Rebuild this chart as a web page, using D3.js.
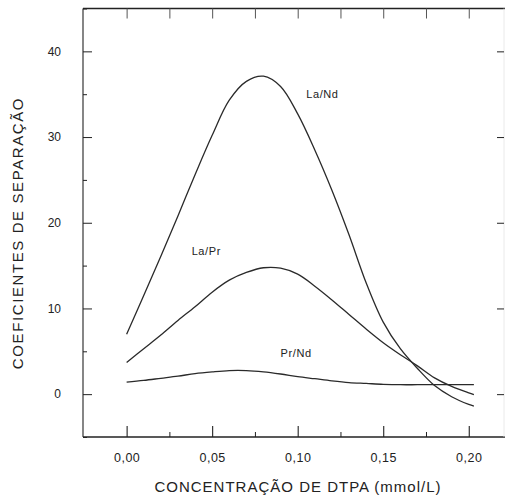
<!DOCTYPE html>
<html><head><meta charset="utf-8">
<script src="https://cdn.jsdelivr.net/npm/d3@7"></script>
<style>body{margin:0;background:#fff}svg{display:block}text{font-family:"Liberation Sans",Arial,sans-serif;fill:#222}</style>
</head><body><svg id="c" width="505" height="498"></svg>
<script>
const conc = [0,0.01,0.02,0.03,0.04,0.05,0.06,0.07,0.08,0.09,0.10,0.11,0.12,0.13,0.14,0.15,0.16,0.17,0.18,0.19,0.20,0.203];
const laNd = [7.0,11.5,16.1,20.8,25.6,30.2,34.3,36.5,37.1,35.9,32.7,28.5,23.8,18.6,13.0,8.4,5.3,3.0,1.0,-0.3,-1.2,-1.4];
const laPr = [3.7,5.3,6.9,8.6,10.2,11.9,13.3,14.2,14.75,14.7,14.0,12.6,11.0,9.3,7.6,6.0,4.6,3.3,1.9,0.9,0.15,-0.05];
const prNd = [1.4,1.6,1.85,2.1,2.4,2.6,2.75,2.75,2.6,2.35,2.05,1.8,1.55,1.35,1.25,1.15,1.1,1.1,1.1,1.1,1.1,1.1];
const seriesNames = ["La/Nd","La/Pr","Pr/Nd"];
const labelPos = [[0.105,34.5],[0.038,16.2],[0.090,4.3]];
const xTicks = [0,0.05,0.10,0.15,0.20];
const xMinor = [0.025,0.075,0.125,0.175];
const yTicks = [0,10,20,30,40];
const yMinor = [-5,5,15,25,35,45];
const xTitle = "CONCENTRAÇÃO DE DTPA (mmol/L)";
const yTitle = "COEFICIENTES DE SEPARAÇÃO";

const svg = d3.select("#c");
const L=83, R=504, T=8.5, B=437;
const x = d3.scaleLinear().domain([-0.0255,0.2206]).range([L,R]);
const y = d3.scaleLinear().domain([-5,45]).range([B,T]);
const fmt = d => d.toFixed(2).replace(".",",");
const ink="#222";

// frame
svg.append("line").attr("x1",L).attr("x2",L).attr("y1",T).attr("y2",B).attr("stroke",ink).attr("stroke-width",1.1);
svg.append("line").attr("x1",L).attr("x2",R+1).attr("y1",T).attr("y2",T).attr("stroke",ink).attr("stroke-width",1.3);
svg.append("line").attr("x1",L).attr("x2",R+1).attr("y1",B).attr("y2",B).attr("stroke",ink).attr("stroke-width",1.3);
svg.append("line").attr("x1",R).attr("x2",R).attr("y1",T).attr("y2",B).attr("stroke","#e4e4e4").attr("stroke-width",0.8);

// bottom axis (ticks inward)
const gb = svg.append("g").attr("transform",`translate(0,${B})`)
  .call(d3.axisBottom(x).tickValues(xTicks).tickSizeInner(-11).tickSizeOuter(0).tickPadding(16).tickFormat(fmt));
gb.select(".domain").remove();
gb.selectAll("line").attr("stroke",ink).attr("stroke-width",1.1);
gb.selectAll("text").attr("font-size",12.5).attr("letter-spacing",0.5).attr("fill",ink);
const gbm = svg.append("g").attr("transform",`translate(0,${B})`)
  .call(d3.axisBottom(x).tickValues(xMinor).tickSizeInner(-5).tickSizeOuter(0).tickFormat(""));
gbm.select(".domain").remove(); gbm.selectAll("line").attr("stroke",ink);

// top axis
const gt = svg.append("g").attr("transform",`translate(0,${T})`)
  .call(d3.axisTop(x).tickValues(xTicks.concat(xMinor)).tickSizeInner(-10).tickSizeOuter(0).tickFormat(""));
gt.select(".domain").remove(); gt.selectAll("line").attr("stroke","#555");

// left axis
const gl = svg.append("g").attr("transform",`translate(${L},0)`)
  .call(d3.axisLeft(y).tickValues(yTicks).tickSizeInner(-9).tickSizeOuter(0).tickPadding(22).tickFormat(d3.format("d")));
gl.select(".domain").remove();
gl.selectAll("line").attr("stroke",ink);
gl.selectAll("text").attr("font-size",12).attr("fill",ink);
const glm = svg.append("g").attr("transform",`translate(${L},0)`)
  .call(d3.axisLeft(y).tickValues(yMinor).tickSizeInner(-4).tickSizeOuter(0).tickFormat(""));
glm.select(".domain").remove(); glm.selectAll("line").attr("stroke",ink);

// right axis
const gr = svg.append("g").attr("transform",`translate(${R},0)`)
  .call(d3.axisRight(y).tickValues(yTicks).tickSizeInner(-7).tickSizeOuter(0).tickFormat(""));
gr.select(".domain").remove(); gr.selectAll("line").attr("stroke",ink);

// curves
const line = d3.line().x((d,i)=>x(conc[i])).y(d=>y(d)).curve(d3.curveCatmullRom.alpha(0.5));
[laNd,laPr,prNd].forEach(s=>{
  svg.append("path").attr("d",line(s)).attr("fill","none").attr("stroke","#2a2a2a").attr("stroke-width",1.3);
});
seriesNames.forEach((n,i)=>{
  svg.append("text").attr("x",x(labelPos[i][0])).attr("y",y(labelPos[i][1])).attr("font-size",11).attr("letter-spacing",0.6).text(n);
});

// titles
svg.append("text").attr("x",298).attr("y",492).attr("text-anchor","middle").attr("font-size",15).attr("letter-spacing",1.0).text(xTitle);
svg.append("text").attr("transform","translate(23,233) rotate(-90)").attr("text-anchor","middle").attr("font-size",15).attr("letter-spacing",1.6).text(yTitle);
</script></body></html>
